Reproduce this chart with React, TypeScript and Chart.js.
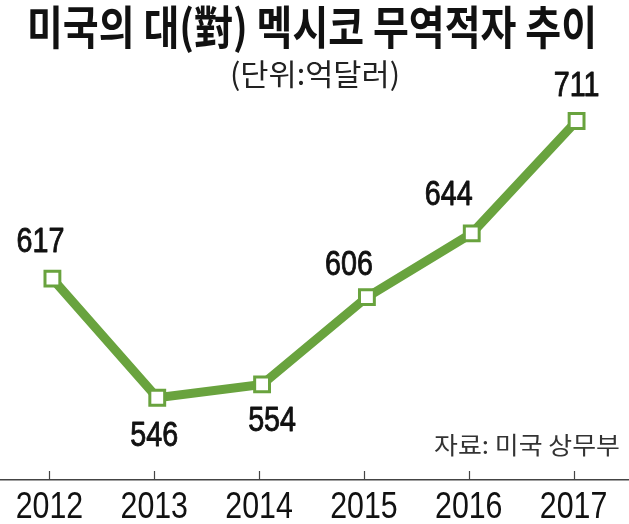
import React, { useEffect, useRef } from "react";
import { Chart, registerables } from "chart.js";

Chart.register(...registerables);

const title = "미국의 대(對) 멕시코 무역적자 추이";
const subtitle = "(단위:억달러)";
const source = "자료: 미국 상무부";
const years = ["2012", "2013", "2014", "2015", "2016", "2017"];
const deficit = [617, 546, 554, 606, 644, 711];

const GREEN = "#69a33e";
const NUM_FONT = '"Liberation Sans", Arial, sans-serif';
const KR_FONT = '"Noto Sans CJK KR", sans-serif';
const NARROW = 0.82;

// label offsets (dx, dy) relative to each point, styling only
const labelOffsets: [number, number][] = [
  [-12, -36],
  [-3, 39],
  [10, 37],
  [-18, -32],
  [-23, -38],
  [0, -35],
];

function drawScaled(ctx: CanvasRenderingContext2D, text: string, cx: number, cy: number, font: string, sx: number, color: string, bolden = 0) {
  ctx.save();
  ctx.font = font;
  ctx.fillStyle = color;
  ctx.textAlign = "center";
  ctx.textBaseline = "middle";
  ctx.translate(cx, cy);
  ctx.scale(sx, 1);
  ctx.fillText(text, 0, 0);
  if (bolden > 0) {
    ctx.strokeStyle = color;
    ctx.lineWidth = bolden;
    ctx.lineJoin = "round";
    ctx.strokeText(text, 0, 0);
  }
  ctx.restore();
}

function drawFit(ctx: CanvasRenderingContext2D, text: string, cx: number, cy: number, font: string, targetW: number, color: string) {
  ctx.save();
  ctx.font = font;
  const w = ctx.measureText(text).width;
  ctx.restore();
  drawScaled(ctx, text, cx, cy, font, targetW / w, color);
}

const overlayPlugin = {
  id: "overlay",
  afterDraw(chart: any) {
    const ctx: CanvasRenderingContext2D = chart.ctx;
    const xs = chart.scales.x;
    const area = chart.chartArea;
    // titles
    drawFit(ctx, title, 312, 27, `bold 46px ${KR_FONT}`, 570, "#111");
    drawFit(ctx, subtitle, 315, 74, `30px ${KR_FONT}`, 170, "#222");
    drawFit(ctx, source, 527, 445, `24px ${KR_FONT}`, 186, "#333");
    // tick marks pointing up into the plot, and year labels
    ctx.save();
    ctx.strokeStyle = "#444";
    ctx.lineWidth = 1.2;
    years.forEach((y, i) => {
      const px = xs.getPixelForValue(i);
      const x = Math.round(px) - 2.5;
      ctx.beginPath();
      ctx.moveTo(x, area.bottom);
      ctx.lineTo(x, area.bottom - 9);
      ctx.stroke();
      drawScaled(ctx, y, px - 3, 508, `37px ${NUM_FONT}`, NARROW, "#111");
    });
    ctx.restore();
    // value labels
    const meta = chart.getDatasetMeta(0);
    meta.data.forEach((pt: any, i: number) => {
      const [dx, dy] = labelOffsets[i];
      drawScaled(ctx, String(deficit[i]), pt.x + dx, pt.y + dy, `35px ${NUM_FONT}`, NARROW, "#111", 0.9);
    });
  },
};

export default function App() {
  const ref = useRef<HTMLCanvasElement>(null);
  useEffect(() => {
    const chart = new Chart(ref.current!, {
      type: "line",
      data: {
        labels: years,
        datasets: [
          {
            data: deficit,
            borderColor: GREEN,
            borderWidth: 9,
            pointStyle: "rect",
            pointRadius: 10.5,
            pointBorderWidth: 3,
            pointBackgroundColor: "#ffffff",
            pointBorderColor: GREEN,
            tension: 0,
            clip: false,
          },
        ],
      },
      options: {
        animation: false,
        responsive: false,
        maintainAspectRatio: false,
        layout: { autoPadding: false, padding: { top: 100, left: 0, right: 0, bottom: 0 } },
        plugins: { legend: { display: false }, tooltip: { enabled: false }, title: { display: false } },
        scales: {
          x: {
            offset: true,
            grid: { display: false, drawTicks: false },
            border: { display: true, color: "#444", width: 1.5 },
            ticks: { display: false },
            afterFit: (s: any) => {
              s.height = 44;
            },
          },
          y: {
            display: false,
            min: 497,
            max: 723.5,
          },
        },
      },
      plugins: [overlayPlugin],
    });
    return () => chart.destroy();
  }, []);
  return (
    <div style={{ position: "absolute", left: 0, top: 0, width: 629, height: 524, background: "#fff" }}>
      <canvas ref={ref} width={629} height={524} style={{ width: 629, height: 524, display: "block" }} />
    </div>
  );
}
